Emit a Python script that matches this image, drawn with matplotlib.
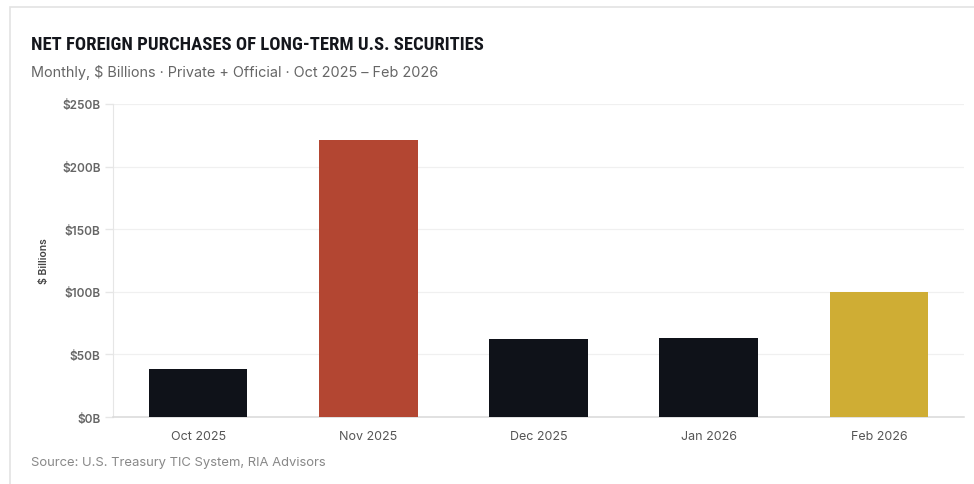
import matplotlib
matplotlib.use("Agg")
import matplotlib.pyplot as plt
from matplotlib.patches import Rectangle
from matplotlib import font_manager

# data
months = ["Oct 2025", "Nov 2025", "Dec 2025", "Jan 2026", "Feb 2026"]
purchases = [38, 221, 62, 63, 100]   # $ billions
bar_colors = ["#0f1219", "#b34632", "#0f1219", "#0f1219", "#cfad34"]
yticks = [0, 50, 100, 150, 200, 250]
ytick_labels = ["$0B", "$50B", "$100B", "$150B", "$200B", "$250B"]

W, H = 974, 485
fig = plt.figure(figsize=(W / 100, H / 100), dpi=100)
fig.patch.set_facecolor("white")

# card border
card = Rectangle((9.5 / W, -0.1), 1.2, 1.1 - 7.5 / H, transform=fig.transFigure,
                 facecolor="none", edgecolor="#e3e3e3", linewidth=1.2)
fig.patches.append(card)

ax = fig.add_axes([113 / W, 1 - 418 / H, (964 - 113) / W, (418 - 105) / H])
x = range(len(months))
ax.bar(x, purchases, width=0.58, color=bar_colors, zorder=3)

ax.set_xlim(-0.5, len(months) - 0.5)
ax.set_ylim(0, 250)
ax.set_xticks(list(x))
ax.set_xticklabels(months, fontfamily=["Inter", "DejaVu Sans"], fontsize=9, color="#555555")
ax.set_yticks(yticks)
ax.set_yticklabels(ytick_labels, fontfamily=["Inter", "DejaVu Sans"], fontsize=8.5,
                   color="#666666", fontweight="semibold")
ax.tick_params(axis="x", length=0, pad=9)
ax.tick_params(axis="y", length=6, color="#e6e6e6", width=1, pad=3)

ax.grid(axis="y", color="#f0f0f0", linewidth=0.9, zorder=0)
for s in ["top", "right"]:
    ax.spines[s].set_visible(False)
ax.spines["left"].set_color("#e6e6e6")
ax.spines["bottom"].set_color("#d9d9d9")
ax.spines["bottom"].set_linewidth(1.1)

ax.set_ylabel("$ Billions", fontfamily=["Inter", "DejaVu Sans"], fontsize=7.5,
              color="#444444", fontweight="semibold", labelpad=9)

# title: condensed face if one is installed
names = {f.name for f in font_manager.fontManager.ttflist}
title_fam = ["DejaVu Sans"]
for cand in ["Liberation Sans Narrow", "DejaVu Sans Condensed", "Roboto Condensed"]:
    if cand in names:
        title_fam = [cand, "DejaVu Sans"]
        break
fig.text(31 / W, 1 - 45 / H, "NET FOREIGN PURCHASES OF LONG-TERM U.S. SECURITIES",
         fontfamily=title_fam, fontweight="bold", fontstretch="condensed",
         fontsize=13.4, color="#14161c", va="center", ha="left")
fig.text(31 / W, 1 - 73 / H, "Monthly, $ Billions · Private + Official · Oct 2025 – Feb 2026",
         fontfamily=["Inter", "DejaVu Sans"], fontsize=10.4, color="#666666",
         va="center", ha="left")
fig.text(31 / W, 1 - 463 / H, "Source: U.S. Treasury TIC System, RIA Advisors",
         fontfamily=["Inter", "DejaVu Sans"], fontsize=9.4, color="#888888",
         va="center", ha="left")

fig.savefig("out.png", dpi=100, facecolor="white")
